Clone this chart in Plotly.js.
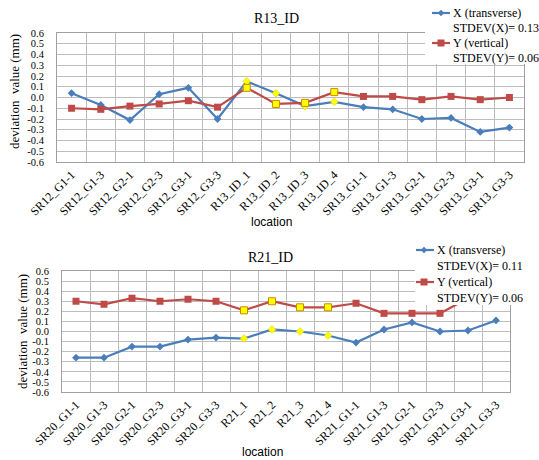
<!DOCTYPE html>
<html><head><meta charset="utf-8">
<script src="https://cdn.plot.ly/plotly-3.0.1.min.js"></script>
<style>html,body{margin:0;padding:0;background:#fff}#chart{width:539px;height:460px}</style>
</head><body><div id="chart"></div>
<script>
// ---- data ----
const catsTop = ['SR12_G1-1','SR12_G1-3','SR12_G2-1','SR12_G2-3','SR12_G3-1','SR12_G3-3','R13_ID_1','R13_ID_2','R13_ID_3','R13_ID_4','SR13_G1-1','SR13_G1-3','SR13_G2-1','SR13_G2-3','SR13_G3-1','SR13_G3-3'];
const xTop = [0.04,-0.07,-0.21,0.03,0.09,-0.20,0.15,0.04,-0.08,-0.04,-0.09,-0.11,-0.20,-0.19,-0.32,-0.28];
const yTop = [-0.10,-0.11,-0.08,-0.06,-0.03,-0.09,0.09,-0.06,-0.05,0.05,0.01,0.01,-0.02,0.01,-0.02,0.00];
const catsBot = ['SR20_G1-1','SR20_G1-3','SR20_G2-1','SR20_G2-3','SR20_G3-1','SR20_G3-3','R21_1','R21_2','R21_3','R21_4','SR21_G1-1','SR21_G1-3','SR21_G2-1','SR21_G2-3','SR21_G3-1','SR21_G3-3'];
const xBot = [-0.26,-0.26,-0.15,-0.15,-0.08,-0.06,-0.07,0.02,0.00,-0.04,-0.11,0.02,0.09,0.00,0.01,0.11];
const yBot = [0.30,0.27,0.33,0.30,0.32,0.30,0.21,0.30,0.24,0.24,0.28,0.18,0.18,0.18,0.33,0.30];
const stdevTop = ['0.13','0.06'];
const stdevBot = ['0.11','0.06'];
const chartTitles = ['R13_ID','R21_ID'];
const seriesNames = ['X (transverse)','Y (vertical)'];
const yTickVals = [-0.6,-0.5,-0.4,-0.3,-0.2,-0.1,0,0.1,0.2,0.3,0.4,0.5,0.6];
const yTickText = yTickVals.map(v => v.toFixed(1));

// ---- styles ----
const W = 539, H = 460;
const BLUE = '#4a7ebb', RED = '#be4b48', YEL = '#ffff00';
const SERIF = 'Liberation Serif, Times New Roman, serif';
const SANS = 'Liberation Sans, Arial, sans-serif';
const GRID = '#bdbdbd';
const hl = cats => cats.map(c => /^R\d/.test(c));
const px = v => v / W, py = v => 1 - v / H;

function mk(cats, xv, yv, st, xa, ya) {
  const h = hl(cats);
  return [
    {x: cats, y: xv, xaxis: xa, yaxis: ya, type: 'scatter', mode: 'lines+markers', name: seriesNames[0],
     line: {color: BLUE, width: 2.2},
     marker: {symbol: 'diamond', size: 6, color: h.map(b => b ? YEL : BLUE),
              line: {color: h.map(b => b ? '#d0c800' : BLUE), width: h.map(b => b ? 0.5 : 0)}}},
    {x: cats, y: yv, xaxis: xa, yaxis: ya, type: 'scatter', mode: 'lines+markers', name: seriesNames[1],
     line: {color: RED, width: 2.2},
     marker: {symbol: 'square', size: 7, color: h.map(b => b ? YEL : RED),
              line: {color: h.map(b => b ? '#c88a00' : RED), width: h.map(b => b ? 1 : 0)}}}
  ];
}

const data = [...mk(catsTop, xTop, yTop, stdevTop, 'x', 'y'),
              ...mk(catsBot, xBot, yBot, stdevBot, 'x2', 'y2')];

function xax(d, anchor) {
  return {domain: d, anchor: anchor, type: 'category', tickson: 'boundaries', showgrid: true,
    gridcolor: GRID, gridwidth: 1, tickangle: -45, ticks: '', tickfont: {family: SERIF, size: 12, color: '#000'},
    showline: true, mirror: true, linecolor: '#a0a0a0', linewidth: 1, range: [-0.5, 15.5], fixedrange: true};
}
function yax(d, anchor) {
  return {domain: d, anchor: anchor, range: [-0.6, 0.6], tickvals: yTickVals, ticktext: yTickText,
    showgrid: true, gridcolor: GRID, gridwidth: 1, zeroline: false, ticks: '', ticklabelstandoff: 10,
    tickfont: {family: SERIF, size: 10.5, color: '#000'}, showline: true, mirror: true,
    linecolor: '#a0a0a0', linewidth: 1, fixedrange: true};
}
function ann(text, xpx, ypx, font, extra) {
  return Object.assign({text: text, x: px(xpx), y: py(ypx), xref: 'paper', yref: 'paper',
    showarrow: false, xanchor: 'center', yanchor: 'middle', font: font}, extra || {});
}

// ---- hand-drawn legend boxes (symbols + text) ----
const shapes = [], legAnn = [];
function legendBox(x0, y0, y1, rows, lx0, lx1, mx, tx, st) {
  shapes.push({type: 'rect', xref: 'paper', yref: 'paper', x0: px(x0), x1: 1, y0: py(y1), y1: py(y0),
    fillcolor: '#fff', line: {width: 0}, layer: 'above'});
  const cols = [BLUE, RED];
  [0, 1].forEach(i => {
    const yy = rows[i * 2];
    shapes.push({type: 'line', xref: 'paper', yref: 'paper', x0: px(lx0), x1: px(lx1), y0: py(yy), y1: py(yy),
      line: {color: cols[i], width: 2.2}, layer: 'above'});
    const s = i === 0 ? 3.2 : 3.5;
    const path = i === 0
      ? `M ${px(mx)} ${py(yy - s)} L ${px(mx + s)} ${py(yy)} L ${px(mx)} ${py(yy + s)} L ${px(mx - s)} ${py(yy)} Z`
      : `M ${px(mx - s)} ${py(yy - s)} L ${px(mx + s)} ${py(yy - s)} L ${px(mx + s)} ${py(yy + s)} L ${px(mx - s)} ${py(yy + s)} Z`;
    shapes.push({type: 'path', xref: 'paper', yref: 'paper', path: path, fillcolor: cols[i],
      line: {width: 0}, layer: 'above'});
  });
  const texts = [seriesNames[0], 'STDEV(X)= ' + st[0], seriesNames[1], 'STDEV(Y)= ' + st[1]];
  texts.forEach((t, i) => legAnn.push(ann(t, tx, rows[i], {family: SERIF, size: 12, color: '#000'}, {xanchor: 'left'})));
}
legendBox(425, 0, 64, [13, 28, 43, 58], 432, 450, 441, 451, stdevTop);
legendBox(415, 240, 305, [250, 266, 282, 298], 416, 434, 424, 435, stdevBot);

const layout = {
  width: W, height: H, margin: {l: 0, r: 0, t: 0, b: 0}, paper_bgcolor: '#fff', plot_bgcolor: '#fff',
  showlegend: false,
  xaxis: xax([px(57), px(524)], 'y'),
  yaxis: yax([py(162), py(33)], 'x'),
  xaxis2: xax([px(62), px(510)], 'y2'),
  yaxis2: yax([py(392), py(271)], 'x2'),
  shapes: shapes,
  annotations: [
    ann(chartTitles[0], 276, 19, {family: SERIF, size: 14, color: '#000'}),
    ann(chartTitles[1], 270, 257, {family: SERIF, size: 14, color: '#000'}),
    ann('deviation&nbsp;&nbsp;value (mm)', 15, 92, {family: SERIF, size: 13, color: '#000'}, {textangle: -90}),
    ann('deviation&nbsp;&nbsp;value (mm)', 22, 332, {family: SERIF, size: 13, color: '#000'}, {textangle: -90}),
    ann('location', 271, 222, {family: SANS, size: 12, color: '#000'}),
    ann('location', 262, 452, {family: SANS, size: 12, color: '#000'}),
    ...legAnn
  ]
};

Plotly.newPlot('chart', data, layout, {displayModeBar: false, staticPlot: true});
</script></body></html>
